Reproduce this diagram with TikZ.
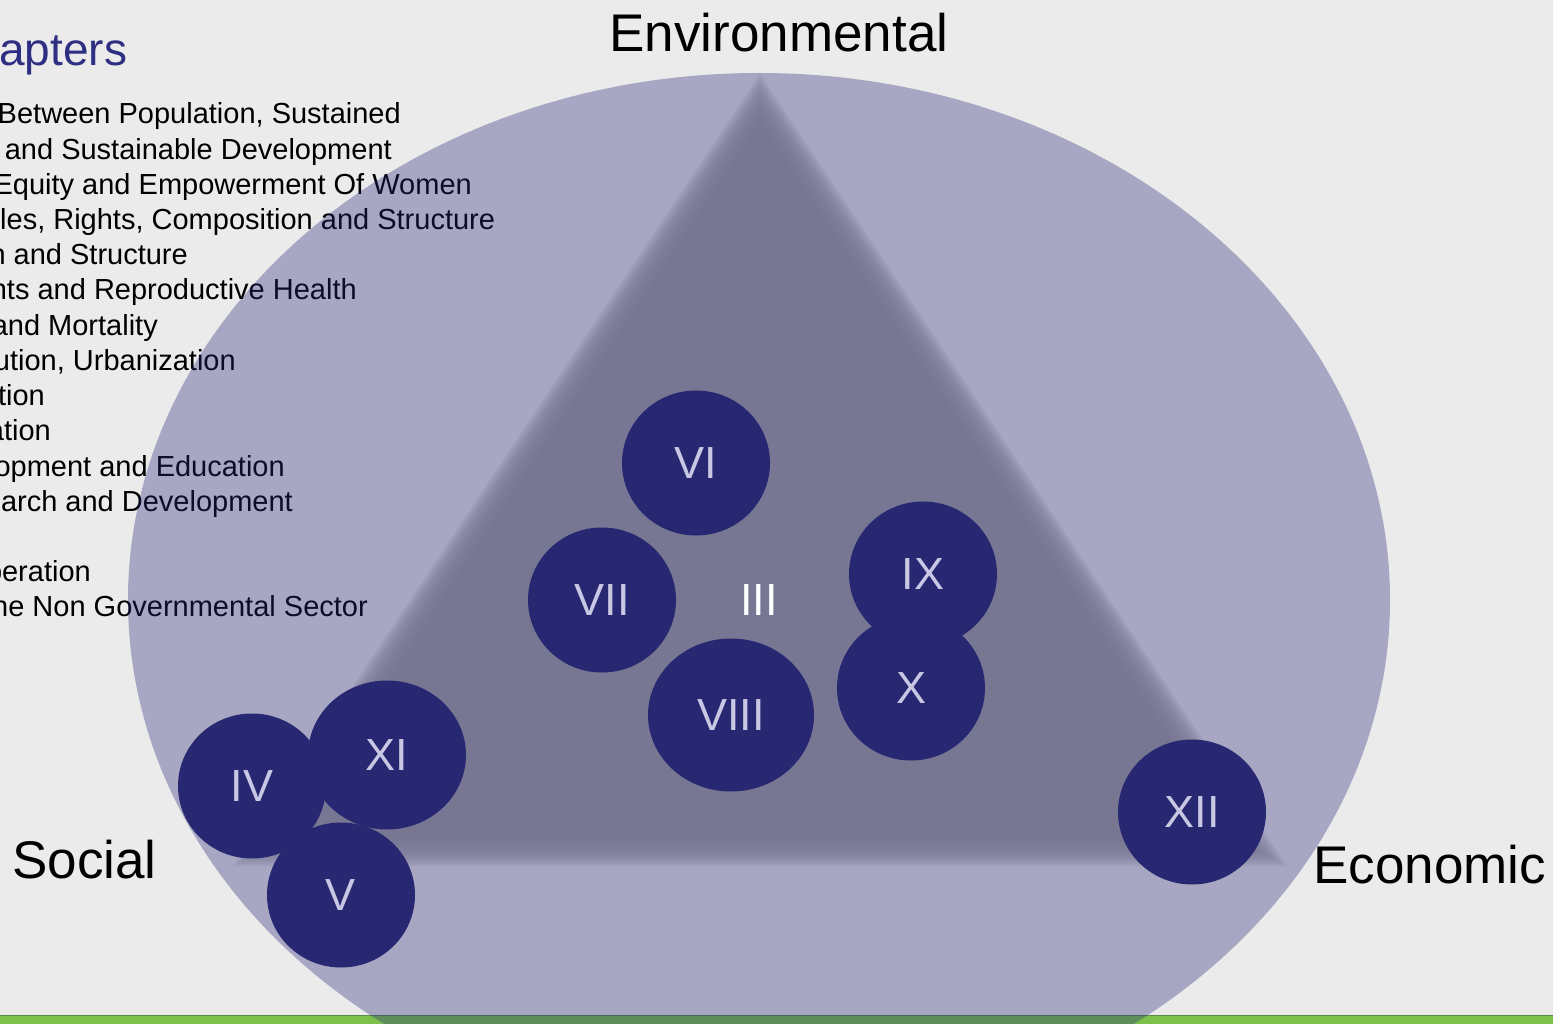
\documentclass[tikz,border=0pt]{standalone}
\usepackage{fontspec}
\setmainfont{Liberation Sans}
\usetikzlibrary{shapes.geometric, positioning}

\definecolor{paper}{RGB}{235,235,235}
\definecolor{navy}{RGB}{39,39,114}
\definecolor{veil}{RGB}{38,38,120}
\definecolor{core}{RGB}{119,119,147}
\definecolor{numeral}{RGB}{200,200,228}
\definecolor{headline}{RGB}{46,46,130}
\definecolor{grass}{RGB}{125,193,76}
\definecolor{grassedge}{RGB}{92,140,74}

\begin{document}
\begin{tikzpicture}[x=1pt, y=-1pt]
\tikzstyle{chap} = [ellipse, fill=navy, inner sep=0pt, minimum width=148, minimum height=145, text=numeral, font=\fontsize{45}{45}\selectfont]
\tikzstyle{entry} = [anchor=base east, inner sep=0pt, font=\fontsize{29}{35}\selectfont]
\tikzstyle{pillar} = [anchor=base west, inner sep=0pt, font=\fontsize{53}{53}\selectfont]

\useasboundingbox (0,0) rectangle (1553,1024);
\clip (0,0) rectangle (1553,1024);
\fill[paper] (0,0) rectangle (1553,1024);

% list of chapters, cut at the left edge
\node[anchor=base west, inner sep=0pt, text=headline, font=\fontsize{46}{46}\selectfont] (title) at (-1,66) {apters};
\node[entry] (l3a) at (401,124) {Between Population, Sustained};
\node[entry] (l3b) at (392,159.2) {and Sustainable Development};
\node[entry] (l4) at (472,194.4) {Equity and Empowerment Of Women};
\node[entry, anchor=base west] (l5) at (0,229.6) {les, Rights, Composition and Structure};
\node[entry] (l6) at (188,264.8) {n and Structure};
\node[entry] (l7) at (357,300) {hts and Reproductive Health};
\node[entry] (l8) at (158,335.2) {and Mortality};
\node[entry] (l9) at (236,370.4) {ution, Urbanization};
\node[entry] (l10) at (45,405.6) {tion};
\node[entry] (l11) at (51,440.8) {ation};
\node[entry] (l12) at (285,476) {opment and Education};
\node[entry] (l13) at (293,511.2) {arch and Development};
\node[entry] (l14) at (91,581.6) {peration};
\node[entry] (l15) at (368,616.8) {he Non Governmental Sector};

% green strip at the foot
\fill[grass] (0,1015) rectangle (1553,1024);
\draw[grassedge, line width=1.5] (0,1015.5) -- (1553,1015.5);

% big ellipse and soft triangle
\fill[veil, opacity=0.34] (759,600) ellipse [x radius=631, y radius=527];
\foreach \d in {-24,-22,...,8} {
  \begin{scope}[shift={(760,583.6)}, scale={1+\d/274.4}]
    \fill[core, opacity=0.17] (0,-495.6) -- (-512,274.4) -- (512,274.4) -- cycle;
  \end{scope}
}

\node[text=white, font=\fontsize{45}{45}\selectfont] (c3) at (759,600) {III};
\node[chap] (c6) at (696,463) {VI};
\node[chap] (c7) at (602,600) {VII};
\node[chap, minimum width=166, minimum height=153] (c8) at (731,715) {VIII};
\node[chap] (c9) at (923,574) {IX};
\node[chap] (c10) at (911,688) {X};
\node[chap] (c4) at (252,786) {IV};
\node[chap, minimum width=158, minimum height=149] (c11) at (387,755) {XI};
\node[chap] (c5) at (341,895) {V};
\node[chap] (c12) at (1192,812) {XII};

\node[pillar, anchor=base] (env) at (779,52) {Environmental};
\node[pillar] (soc) at (12,878) {Social};
\node[pillar] (eco) at (1313,883) {Economic};
\end{tikzpicture}
\end{document}
